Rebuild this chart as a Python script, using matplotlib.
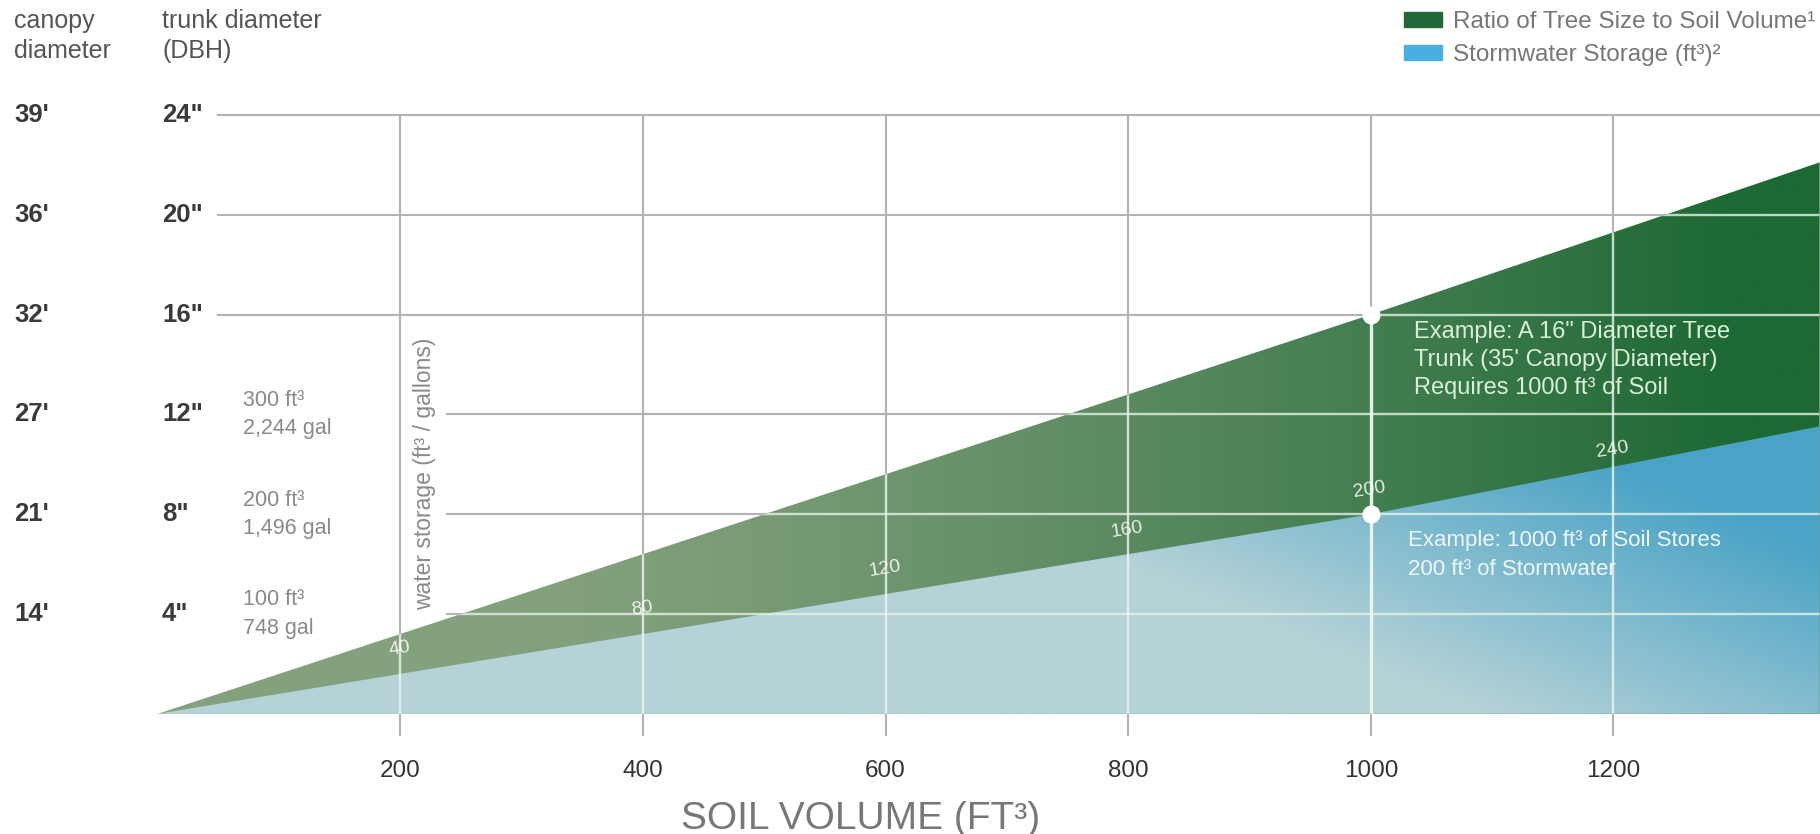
#!/usr/bin/env python3
"""Tree size / soil volume / stormwater storage infographic."""

import matplotlib
import matplotlib.pyplot as plt
import numpy as np
from matplotlib.colors import to_rgb
from matplotlib.patches import Patch, Polygon

matplotlib.use("Agg")

plt.rcParams.update({"font.family": ["Liberation Sans", "DejaVu Sans"]})

# ---- data -------------------------------------------------------------
soil_volume = [0, 1000, 1370]          # ft³ of soil
trunk_dbh = [0, 16, 22.1]              # inches (tree size ratio)
storm_ft3 = [0, 200, 288]              # ft³ of stormwater stored

x_ticks = [200, 400, 600, 800, 1000, 1200]
storm_marks = [40, 80, 120, 160, 200, 240]

dbh_ticks = [4, 8, 12, 16, 20, 24]
dbh_labels = ['4"', '8"', '12"', '16"', '20"', '24"']
canopy_labels = ["14'", "21'", "27'", "32'", "36'", "39'"]

storage_ticks_ft3 = [100, 200, 300]
storage_ticks_gal = ["748", "1,496", "2,244"]
FT3_PER_INCH = 25  # storage scale: 100 ft³ sits on the 4" line

# ---- layout -----------------------------------------------------------
W, H = 1820, 834
XLIM = (-130.1, 1370.3)
YLIM = (-4.818, 28.609)

GRAY_LINE = "#b3b3b3"
GREEN_L, GREEN_R = to_rgb("#84a17e"), to_rgb("#1d6934")
BLUE_L, BLUE_R = to_rgb("#b5d2d7"), to_rgb("#4aa3c6")


def fpx(x, y):
    """Figure pixel (from top-left) -> figure fraction."""
    return x / W, 1 - y / H


fig = plt.figure(figsize=(W / 100, H / 100), dpi=100)
ax = fig.add_axes([0, 0, 1, 1])
ax.set_axis_off()
ax.set_xlim(*XLIM)
ax.set_ylim(*YLIM)

storm_in = [v / FT3_PER_INCH for v in storm_ft3]

# clip shapes
tri = Polygon(
    list(zip(soil_volume, trunk_dbh)) + [(soil_volume[-1], 0), (soil_volume[0], 0)],
    closed=True, transform=ax.transData, facecolor="none", edgecolor="none",
)
blue_poly = Polygon(
    list(zip(soil_volume, storm_in)) + [(soil_volume[-1], 0), (soil_volume[0], 0)],
    closed=True, transform=ax.transData, facecolor="none", edgecolor="none",
)

# gradient fills
gx = np.linspace(0, soil_volume[-1], 700)
gy = np.linspace(0, max(trunk_dbh), 300)
X, Y = np.meshgrid(gx, gy)


def lerp(c0, c1, t):
    t = t[..., None]
    return np.array(c0) * (1 - t) + np.array(c1) * t


t_green = np.clip((X - 300) / 1000, 0, 1) ** 1.3
t_blue = np.clip((X - 800) / 600 + (Y - 6) / 12, 0, 1)
ext = [0, soil_volume[-1], 0, max(trunk_dbh)]

im_g = ax.imshow(lerp(GREEN_L, GREEN_R, t_green), extent=ext, origin="lower",
                 aspect="auto", interpolation="bilinear", zorder=2)
im_g.set_clip_path(tri)
im_b = ax.imshow(lerp(BLUE_L, BLUE_R, t_blue), extent=ext, origin="lower",
                 aspect="auto", interpolation="bilinear", zorder=2.1)
im_b.set_clip_path(blue_poly)
ax.set_xlim(*XLIM)
ax.set_ylim(*YLIM)

# grid: gray on white, pale over the fills
for y in dbh_ticks:
    x0 = 50 if y >= 16 else 238
    ax.plot([x0, XLIM[1]], [y, y], color=GRAY_LINE, lw=1.5, zorder=1)
    ln, = ax.plot([x0, XLIM[1]], [y, y], color="#e6f2e4", lw=1.7, alpha=0.8, zorder=3)
    ln.set_clip_path(tri)

for x in x_ticks:
    ax.plot([x, x], [-0.85, 24], color=GRAY_LINE, lw=1.5, zorder=1)
    strong = x == soil_volume[1]
    ln, = ax.plot([x, x], [0, 24], color="#eef7f0", lw=2.4 if strong else 1.7,
                  alpha=0.95 if strong else 0.8, zorder=3)
    ln.set_clip_path(tri)
    ax.text(x, -2.3, str(x), ha="center", va="center", fontsize=17.5, color="#333333")

# stormwater values along the storage line
p0 = ax.transData.transform((soil_volume[0], storm_in[0]))
p1 = ax.transData.transform((soil_volume[1], storm_in[1]))
ang = np.degrees(np.arctan2(p1[1] - p0[1], p1[0] - p0[0]))
off = 25
nx, ny = -np.sin(np.radians(ang)) * off + 3, np.cos(np.radians(ang)) * off
for x, m in zip(x_ticks, storm_marks):
    ax.annotate(str(m), (x, m / FT3_PER_INCH), xytext=(nx, ny), textcoords="offset pixels",
                rotation=ang, ha="center", va="center", fontsize=14,
                color="white", alpha=0.85, zorder=4)

# example markers
ax.plot(soil_volume[1], trunk_dbh[1], "o", ms=13, color="white", mec="none", zorder=5)
ax.plot(soil_volume[1], storm_in[1], "o", ms=13, color="white", mec="none", zorder=5)

ax.text(*fpx(1414, 360), "Example: A 16\" Diameter Tree\nTrunk (35' Canopy Diameter)\n"
        "Requires 1000 ft³ of Soil", transform=fig.transFigure, ha="left", va="center",
        fontsize=17, color="#dbeed8", linespacing=1.38, zorder=6)
ax.text(*fpx(1408, 555), "Example: 1000 ft³ of Soil Stores\n200 ft³ of Stormwater",
        transform=fig.transFigure, ha="left", va="center", fontsize=16,
        color="#eef6f8", linespacing=1.45, zorder=6)

# left-hand scales
ytr = ax.get_yaxis_transform()
for y, dl, cl in zip(dbh_ticks, dbh_labels, canopy_labels):
    ax.text(14 / W, y, cl, transform=ytr, ha="left", va="center", fontsize=18.5,
            fontweight="bold", color="#3a3a3a")
    ax.text(162 / W, y, dl, transform=ytr, ha="left", va="center", fontsize=18.5,
            fontweight="bold", color="#3a3a3a")
for v, g in zip(storage_ticks_ft3, storage_ticks_gal):
    ax.text(243 / W, v / FT3_PER_INCH, f"{v} ft³\n{g} gal", transform=ytr, ha="left",
            va="center", fontsize=15.5, color="#8a8a8a", linespacing=1.45)

fig.text(*fpx(14, 36), "canopy\ndiameter", ha="left", va="center", fontsize=18,
         color="#555555", linespacing=1.3)
fig.text(*fpx(162, 36), "trunk diameter\n(DBH)", ha="left", va="center", fontsize=18,
         color="#555555", linespacing=1.3)
fig.text(*fpx(425, 474), "water storage (ft³ / gallons)", rotation=90, ha="center",
         va="center", fontsize=16.5, color="#8a8a8a")
fig.text(*fpx(861, 819), "SOIL VOLUME (FT³)", ha="center", va="center", fontsize=28,
         color="#777777")

# legend
handles = [Patch(color="#22693a", label="Ratio of Tree Size to Soil Volume¹"),
           Patch(color="#4aaee0", label="Stormwater Storage (ft³)²")]
fig.legend(handles=handles, loc="upper right", bbox_to_anchor=fpx(1815, 11),
           frameon=False, fontsize=17.5, handlelength=1.55, handleheight=0.55,
           handletextpad=0.45, labelspacing=0.45, borderpad=0, borderaxespad=0,
           labelcolor="#777777")

fig.savefig("out.png", dpi=100, facecolor="white")
